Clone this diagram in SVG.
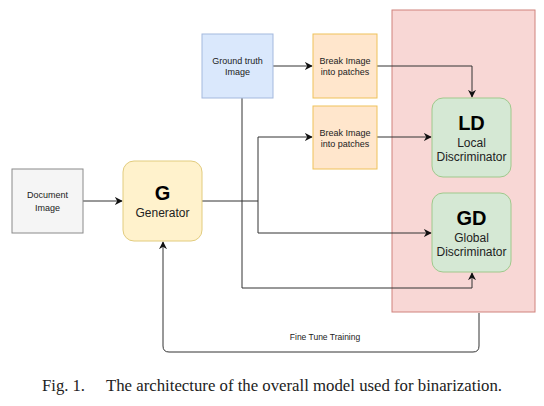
<svg xmlns="http://www.w3.org/2000/svg" width="544" height="406" viewBox="0 0 544 406">
<style>
.t{font-family:"Liberation Sans",Arial,sans-serif;fill:#222;text-anchor:middle}
.s{font-size:9px}
.m{font-size:12px}
.b{font-size:20px;font-weight:bold;fill:#000}
.e{fill:none;stroke:#333;stroke-width:1}
.cap{font-family:"Liberation Serif","Times New Roman",serif;font-size:16px;fill:#222}
</style>
<defs>
<marker id="a" viewBox="0 0 10 10" refX="9" refY="5" markerWidth="8" markerHeight="8" markerUnits="userSpaceOnUse" orient="auto">
<path d="M0,0 L10,5 L0,10 L3,5 Z" fill="#111"/>
</marker>
</defs>
<rect width="544" height="406" fill="#fff"/>
<g id="discriminators">
<rect x="392" y="10" width="143" height="302" fill="#f8d7d5" stroke="#d0827c" stroke-width="1"/>
</g>
<g id="connectors">
<path class="e" d="M83,201 H122" marker-end="url(#a)"/>
<path class="e" d="M202,201 H258"/>
<path class="e" d="M258,233 V137 H312" marker-end="url(#a)"/>
<path class="e" d="M258,233 H431" marker-end="url(#a)"/>
<path class="e" d="M273,66 H312" marker-end="url(#a)"/>
<path class="e" d="M377,66 H472 V97" marker-end="url(#a)"/>
<path class="e" d="M377,137 H431" marker-end="url(#a)"/>
<path class="e" d="M242,98 V288 H472 V273" marker-end="url(#a)"/>
<path class="e" d="M479,313 V346 Q479,352 473,352 H169 Q163,352 163,346 V242" marker-end="url(#a)"/>
<text class="t" x="325" y="340" style="font-size:8.5px">Fine Tune Training</text>
</g>
<g id="ground-truth">
<rect x="202" y="34" width="71" height="64" fill="#dae8fc" stroke="#a4b9de"/>
<text class="t s" x="237.5" y="64">Ground truth</text>
<text class="t s" x="237.5" y="75">Image</text>
</g>
<g id="break1">
<rect x="313" y="34" width="64" height="64" fill="#ffe6cc" stroke="#efc25a"/>
<text class="t s" x="345" y="64">Break Image</text>
<text class="t s" x="345" y="75">into patches</text>
</g>
<g id="break2">
<rect x="313" y="106" width="64" height="63" fill="#ffe6cc" stroke="#efc25a"/>
<text class="t s" x="345" y="136">Break Image</text>
<text class="t s" x="345" y="147">into patches</text>
</g>
<g id="document">
<rect x="12" y="169" width="71" height="64" fill="#f5f5f5" stroke="#8a8a8a"/>
<text class="t s" x="47.5" y="198">Document</text>
<text class="t s" x="47.5" y="211">Image</text>
</g>
<g id="generator">
<rect x="123" y="161" width="79" height="80" rx="11" fill="#fff2cc" stroke="#e2cc7f"/>
<text class="t b" x="162.5" y="200">G</text>
<text class="t m" x="162.5" y="217">Generator</text>
</g>
<g id="local-discriminator">
<rect x="432" y="98" width="79" height="79" rx="11" fill="#d5e8d4" stroke="#9fc98c"/>
<text class="t b" x="471.5" y="130">LD</text>
<text class="t m" x="471.5" y="147">Local</text>
<text class="t m" x="471.5" y="161">Discriminator</text>
</g>
<g id="global-discriminator">
<rect x="432" y="193" width="79" height="79" rx="11" fill="#d5e8d4" stroke="#9fc98c"/>
<text class="t b" x="471.5" y="225">GD</text>
<text class="t m" x="471.5" y="242">Global</text>
<text class="t m" x="471.5" y="256">Discriminator</text>
</g>
<text class="cap" x="42" y="391" textLength="43" lengthAdjust="spacingAndGlyphs">Fig. 1.</text>
<text class="cap" x="106" y="391" textLength="396" lengthAdjust="spacingAndGlyphs">The architecture of the overall model used for binarization.</text>
</svg>
